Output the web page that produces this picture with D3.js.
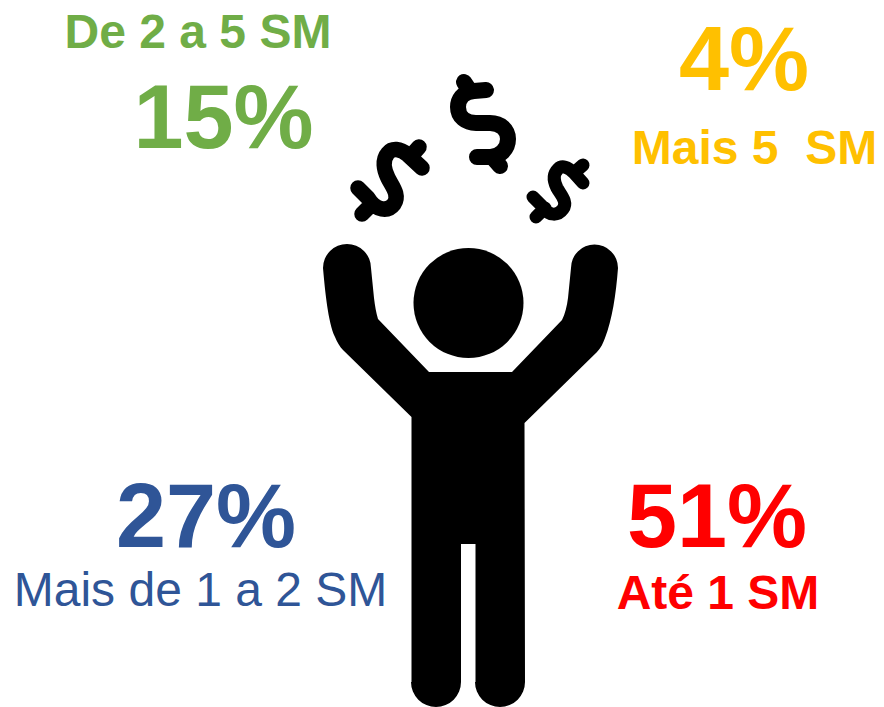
<!DOCTYPE html>
<html><head><meta charset="utf-8">
<script src="https://cdnjs.cloudflare.com/ajax/libs/d3/7.9.0/d3.min.js"></script>
<style>html,body{margin:0;padding:0;background:#fff}svg{display:block}text{font-family:"Liberation Sans",Arial,sans-serif;white-space:pre}</style>
</head><body><script>
const categories=["De 2 a 5 SM","Mais 5  SM","Mais de 1 a 2 SM","Até 1 SM"];
const values=[15,4,27,51];
const colors=["#70AD47","#FFC000","#2F5597","#FF0000"];
const valueAnchorX=[223.5,744,206,717];
const valueBaseline=[148,89.5,547,547];
const labelAnchorX=[198,754.5,200.5,718];
const labelBaseline=[48,164,606,609];
const labelWeights=["bold","bold","normal","bold"];
const labelSize=48;
const valueSize=90;

const svg=d3.select("body").append("svg").attr("width",884).attr("height",707);
const fmt=d=>d+"%";
svg.selectAll("text.value").data(values).join("text").attr("class","value")
 .attr("x",(d,i)=>valueAnchorX[i]).attr("y",(d,i)=>valueBaseline[i]).attr("text-anchor","middle")
 .attr("font-size",valueSize).attr("font-weight","bold").attr("fill",(d,i)=>colors[i]).text(fmt);
svg.selectAll("text.label").data(categories).join("text").attr("class","label")
 .attr("x",(d,i)=>labelAnchorX[i]).attr("y",(d,i)=>labelBaseline[i]).attr("text-anchor","middle")
 .attr("font-size",labelSize).attr("font-weight",(d,i)=>labelWeights[i]).attr("fill",(d,i)=>colors[i]).text(d=>d);

const g=svg.append("g").attr("fill","#000");
g.append("circle").attr("cx",468.5).attr("cy",303).attr("r",55);
const body=d3.path();
body.moveTo(429,372);body.lineTo(378,319);
body.bezierCurveTo(376,312,375,306,374,298);
body.lineTo(371,268);
body.arc(347,268,24,0,Math.PI,true);
body.bezierCurveTo(325,290,328,322,335,337);
body.bezierCurveTo(337,342,340,347,343,350);
body.lineTo(411.5,417);
body.lineTo(411.5,682);
body.arc(436,682,25,Math.PI,0,true);
body.lineTo(461,544);body.lineTo(475.5,544);body.lineTo(475.5,682);
body.arc(500,682,25,Math.PI,0,true);
body.lineTo(524.5,423);
body.lineTo(597,352);
body.bezierCurveTo(601,348,603,343,605,338);
body.bezierCurveTo(612,320,616,295,618,268);
body.arc(594.5,268,23.5,0,Math.PI,true);
body.lineTo(568,298);
body.bezierCurveTo(567,306,565,314,562,320);
body.lineTo(512,372);
body.closePath();
g.append("path").attr("d",body.toString());

const dollarStroke=(d,w)=>svg.append("path").attr("d",d).attr("fill","none").attr("stroke","#000").attr("stroke-width",w).attr("stroke-linecap","round").attr("stroke-linejoin","round");
dollarStroke("M486,90 L474,91 C462,92 458,100 458,107 C458,117 466,123 476,123 L490,123 C501,123 508,130 508,139 C508,149 500,157 490,157 L477,157 M464,82 L470,91 M493,158 L500,166",16);
dollarStroke("M422,168 L408,155 C400,148 392,148 388,153 C382,160 384,170 388,178 C392,186 400,195 394,204 C388,212 376,211 368,198 L358,188 M419,147 L411,156 M362,214 L371,205",15.5);
dollarStroke("M583,183 L574,173 C568,167 562,165 558,169 C552,175 554,182 557,188 C561,195 568,202 563,209 C558,216 549,216 544,208 L533,197 M583,165 L575,172 M536,217 L545,208",13);
</script></body></html>
